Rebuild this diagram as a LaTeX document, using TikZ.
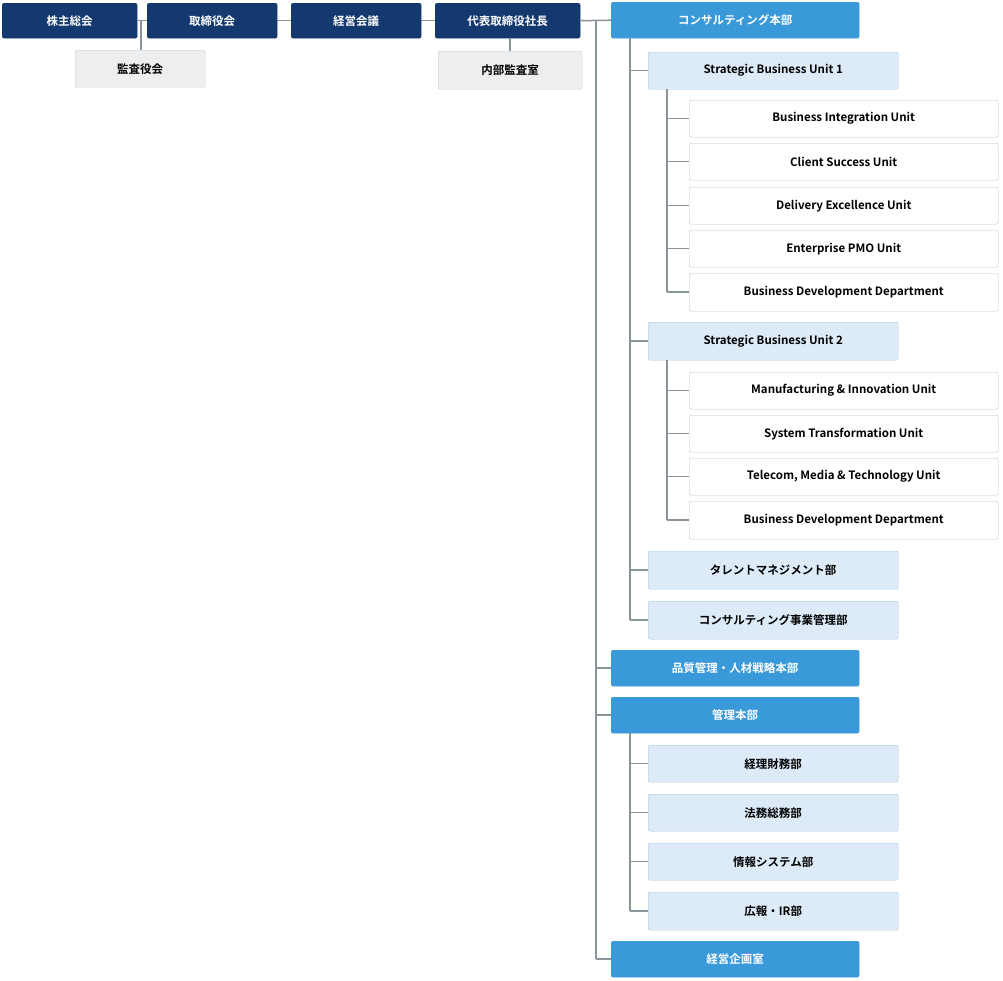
\documentclass[tikz,border=0pt]{standalone}
\usepackage{fontspec}
\setmainfont{Noto Sans CJK JP}[BoldFont={Noto Sans CJK JP Bold}]
\begin{document}
\begin{tikzpicture}[x=1pt,y=-1pt,
 font=\bfseries\fontsize{11.5}{13}\selectfont,
 bx/.style={rounded corners=2pt,inner sep=0pt,anchor=north west},
 dk/.style={bx,fill={rgb,255:red,20;green,57;blue,111},draw={rgb,255:red,20;green,57;blue,111},text=white},
 bl/.style={bx,fill={rgb,255:red,58;green,154;blue,217},draw={rgb,255:red,58;green,154;blue,217},text=white},
 lb/.style={bx,fill={rgb,255:red,220;green,235;blue,247},draw={rgb,255:red,170;green,199;blue,222},text=black},
 gy/.style={bx,fill={rgb,255:red,236;green,238;blue,240},draw={rgb,255:red,200;green,204;blue,207},text=black},
 wh/.style={bx,fill=white,draw={rgb,255:red,190;green,195;blue,200},text=black},
 ln/.style={draw={rgb,255:red,138;green,148;blue,153},line width=1.5pt}]
\useasboundingbox (0,0) rectangle (1003,980);
\newcommand\bx[6]{\node[#1,minimum width=#4-#3,minimum height=#6-#5] (#2) at (#3,#5) {};}
% top row
\node[dk,minimum width=135,minimum height=35] (a1) at (2,3) {株主総会};
\node[dk,minimum width=130,minimum height=35] (a2) at (147,3) {取締役会};
\node[dk,minimum width=130,minimum height=35] (a3) at (291,3) {経営会議};
\node[dk,minimum width=145,minimum height=35] (a4) at (435,3) {代表取締役社長};
\node[gy,minimum width=130,minimum height=37] (k1) at (75,50) {監査役会};
\node[gy,minimum width=144,minimum height=38] (k2) at (438,51) {内部監査室};
\draw[ln] (a1.east) -- (a2.west);
\draw[ln] (a2.east) -- (a3.west);
\draw[ln] (a3.east) -- (a4.west);
\coordinate (j1) at (141,20.5);
\draw[ln] (j1) -- (k1.north -| j1);
\draw[ln] (a4.south -| k2.north) -- (k2.north);
% main spine
\node[bl,minimum width=248,minimum height=36] (c) at (611,2) {コンサルティング本部};
\node[bl,minimum width=248,minimum height=36] (q) at (611,650) {品質管理・人材戦略本部};
\node[bl,minimum width=248,minimum height=36] (m) at (611,697) {管理本部};
\node[bl,minimum width=248,minimum height=36] (p) at (611,941) {経営企画室};
\coordinate (s0) at (596,20);
\coordinate (s1) at (596,959);
\draw[ln] (a4.east) -- (c.west);
\draw[ln] (s0) -- (s1);
\foreach \n in {q,m,p} \draw[ln] (\n.west -| s0) -- (\n.west);
% consulting
\node[lb,minimum width=250,minimum height=37] (u1) at (648,52) {Strategic Business Unit 1};
\node[lb,minimum width=250,minimum height=38] (u2) at (648,322) {Strategic Business Unit 2};
\node[lb,minimum width=250,minimum height=38] (t) at (648,551) {タレントマネジメント部};
\node[lb,minimum width=250,minimum height=38] (cm) at (648,601) {コンサルティング事業管理部};
\coordinate (v0) at (630,38);
\draw[ln] (v0) -- (630,620);
\foreach \n in {u1,u2,t,cm} \draw[ln] (\n.west -| v0) -- (\n.west);
\node[wh,minimum width=309,minimum height=37] (b1) at (689,100) {Business Integration Unit};
\node[wh,minimum width=309,minimum height=37] (b2) at (689,143) {Client Success Unit};
\node[wh,minimum width=309,minimum height=37] (b3) at (689,187) {Delivery Excellence Unit};
\node[wh,minimum width=309,minimum height=37] (b4) at (689,230) {Enterprise PMO Unit};
\node[wh,minimum width=309,minimum height=38] (b5) at (689,273) {Business Development Department};
\draw[ln] (u1.south -| 667,0) -- (667,292);
\foreach \n in {b1,b2,b3,b4,b5} \draw[ln] (\n.west -| 667,0) -- (\n.west);
\node[wh,minimum width=309,minimum height=37] (d1) at (689,372) {Manufacturing \& Innovation Unit};
\node[wh,minimum width=309,minimum height=37] (d2) at (689,415) {System Transformation Unit};
\node[wh,minimum width=309,minimum height=37] (d3) at (689,458) {Telecom, Media \& Technology Unit};
\node[wh,minimum width=309,minimum height=38] (d4) at (689,501) {Business Development Department};
\draw[ln] (u2.south -| 667,0) -- (667,520);
\foreach \n in {d1,d2,d3,d4} \draw[ln] (\n.west -| 667,0) -- (\n.west);
% admin
\node[lb,minimum width=250,minimum height=37] (e1) at (648,745) {経理財務部};
\node[lb,minimum width=250,minimum height=37] (e2) at (648,794) {法務総務部};
\node[lb,minimum width=250,minimum height=37] (e3) at (648,843) {情報システム部};
\node[lb,minimum width=250,minimum height=38] (e4) at (648,892) {広報・IR部};
\draw[ln] (m.south -| 630,0) -- (630,911);
\foreach \n in {e1,e2,e3,e4} \draw[ln] (\n.west -| 630,0) -- (\n.west);
\end{tikzpicture}
\end{document}
